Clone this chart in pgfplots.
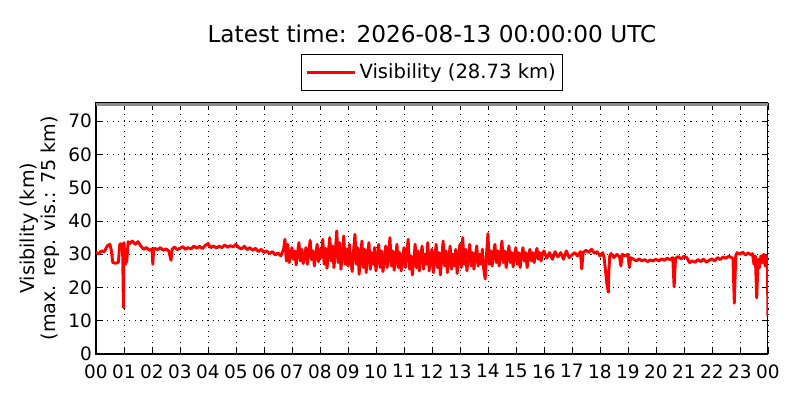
\documentclass[border=0pt]{standalone}
\usepackage{fontspec}
\setmainfont{DejaVu Sans}
\usepackage{pgfplots}
\pgfplotsset{compat=1.18}
\begin{document}
\begin{tikzpicture}
\path[use as bounding box] (0,0) rectangle (576pt,288pt);
\begin{axis}[
  at={(69.1pt,33.1pt)}, anchor=south west,
  scale only axis, width=483.8pt, height=181pt,
  xmin=0, xmax=24, ymin=0, ymax=75.6,
  xtick={0,1,...,24},
  xticklabels={00,01,02,03,04,05,06,07,08,09,10,11,12,13,14,15,16,17,18,19,20,21,22,23,00},
  ytick={0,10,...,70},
  /pgf/number format/assume math mode=true,
  ticklabel style={font=\fontsize{13.3}{15}\selectfont},
  xticklabel style={yshift=-4pt},
  yticklabel style={xshift=0.5pt},
  grid=major,
  major grid style={black, line width=0.5pt, dash pattern=on 0.8pt off 3.2pt},
  tick align=inside, tick pos=both,
  major tick length=4pt,
  tick style={black, line width=0.6pt},
  axis line style={black, line width=0.8pt},
  title={Latest time: 2026-08-13 00:00:00 UTC},
  title style={at={(axis description cs:0.5,1)}, anchor=base, yshift=37pt, font=\fontsize{16.7}{20}\selectfont},
  ylabel={Visibility (km)\\(max. rep. vis.: 75 km)},
  ylabel style={at={(axis description cs:-0.0835,0.5)}, anchor=center, align=center, font=\fontsize{13.8}{15.6}\selectfont},
  legend style={at={(axis description cs:0.5,1)}, anchor=south, yshift=8.6pt,
    draw=black, fill=white, line width=0.8pt, inner xsep=2.5pt, inner ysep=4.8pt,
    font=\fontsize{14.1}{17}\selectfont,
    nodes={inner sep=2pt}},
  legend image code/.code={\draw[#1, line width=1.6pt] (0pt,0pt) -- (30pt,0pt); \path (0pt,0pt) -- (35pt,0pt);},
]
\addplot[color={rgb,255:red,140;green,140;blue,140}, line width=2.2pt, forget plot] coordinates {(0,75) (24,75)};
\addplot[red, line width=2.1pt, line join=round] coordinates {
(0.0,30.5) (0.1,30.2) (0.2,31.0) (0.3,30.8) (0.4,32.5) (0.5,33.0) (0.55,31) (0.6,27.5) (0.7,27.3) (0.8,27.6)
(0.85,33.0) (0.9,33.2) (0.95,32.5) (0.98,14.0) (1.0,33.5) (1.05,27) (1.1,28) (1.15,33.8) (1.2,33.2) (1.3,34.0)
(1.4,33.0) (1.5,33.8) (1.6,32.5) (1.7,31.5) (1.8,32.0) (1.9,31.2) (2.0,31.6) (2.03,27.0) (2.06,31.5) (2.1,31.8)
(2.2,31.4) (2.3,32.0) (2.4,31.2) (2.5,31.6) (2.6,31.0) (2.68,28.2) (2.72,31.5) (2.8,32.2) (2.9,31.4) (3.0,31.8)
(3.1,32.3) (3.2,31.5) (3.3,32.0) (3.4,31.6) (3.5,32.5) (3.6,31.8) (3.7,32.4) (3.8,31.7) (3.9,32.6) (4.0,33.2)
(4.1,32.0) (4.2,32.5) (4.3,31.9) (4.4,32.4) (4.5,32.0) (4.6,32.8) (4.7,32.1) (4.8,32.6) (4.9,32.2) (5.0,33.0)
(5.1,32.0) (5.2,31.6) (5.3,32.4) (5.4,31.4) (5.5,32.0) (5.6,31.2) (5.7,31.8) (5.8,30.8) (5.9,31.5) (6.0,30.6)
(6.1,31.0) (6.2,30.2) (6.3,30.8) (6.4,29.8) (6.5,30.4) (6.6,29.5) (6.7,31.5) (6.75,34.5) (6.8,28.0) (6.85,33.0)
(6.9,27.5) (7.0,32.0)
(7.05,28.5) (7.10,31.0) (7.15,26.8) (7.20,30.5) (7.25,33.5) (7.30,28.0) (7.35,31.5) (7.40,27.2) (7.45,29.5) (7.50,32.0)
(7.55,27.0) (7.60,30.8) (7.65,34.2) (7.70,28.4) (7.75,31.0) (7.80,26.5) (7.85,30.0) (7.90,33.0) (7.95,27.8) (8.00,31.5)
(8.05,29.0) (8.10,34.5) (8.15,27.0) (8.20,31.8) (8.25,25.8) (8.30,30.5) (8.35,35.0) (8.40,28.0) (8.45,32.5) (8.50,26.0)
(8.55,31.0) (8.60,37.0) (8.65,27.5) (8.70,33.5) (8.75,25.5) (8.80,30.0) (8.85,35.5) (8.90,27.0) (8.95,31.5) (9.00,26.5)
(9.05,33.0) (9.10,28.5) (9.15,24.8) (9.20,31.0) (9.25,36.0) (9.30,27.0) (9.35,32.0) (9.40,24.0) (9.45,29.5) (9.50,34.0)
(9.55,26.0) (9.60,31.5) (9.65,24.5) (9.70,30.0) (9.75,33.5) (9.80,25.5) (9.85,30.5) (9.90,27.0) (9.95,32.0) (10.00,25.0)
(10.05,29.0) (10.10,33.0) (10.15,26.0) (10.20,31.0) (10.25,24.8) (10.30,28.5) (10.35,32.5) (10.40,26.0) (10.45,30.0) (10.50,35.0)
(10.55,26.5) (10.60,31.0) (10.65,25.2) (10.70,29.0) (10.75,33.0) (10.80,26.0) (10.85,30.5) (10.90,25.0) (10.95,28.5) (11.00,32.0)
(11.05,26.0) (11.10,30.5) (11.15,34.5) (11.20,25.5) (11.25,29.5) (11.30,23.8) (11.35,28.0) (11.40,33.0) (11.45,26.0) (11.50,31.0)
(11.55,25.0) (11.60,29.5) (11.65,32.5) (11.70,25.5) (11.75,30.0) (11.80,27.0) (11.85,33.5) (11.90,25.0) (11.95,29.0) (12.00,31.5)
(12.05,24.5) (12.10,28.5) (12.15,33.0) (12.20,26.0) (12.25,30.5) (12.30,23.8) (12.35,29.0) (12.40,34.0) (12.45,26.5) (12.50,31.0)
(12.55,24.5) (12.60,28.5) (12.65,32.5) (12.70,25.5) (12.75,30.0) (12.80,26.5) (12.85,31.5) (12.90,24.2) (12.95,29.0) (13.00,33.0)
(13.05,26.0) (13.10,35.0) (13.15,27.0) (13.20,31.5) (13.25,25.0) (13.30,29.5) (13.35,33.0) (13.40,26.5) (13.45,30.5) (13.50,25.5)
(13.55,29.5) (13.60,32.5) (13.65,26.5) (13.70,30.0) (13.75,27.0) (13.80,31.5) (13.85,25.5) (13.90,22.6) (13.95,30.0) (14.00,36.2)
(14.05,27.0) (14.10,31.0) (14.15,26.5) (14.20,30.5) (14.25,33.0) (14.30,27.5) (14.35,31.0) (14.40,26.5) (14.45,30.0) (14.50,34.0)
(14.55,27.5) (14.60,31.0) (14.65,26.0) (14.70,29.5) (14.75,32.5) (14.80,27.5) (14.85,30.5) (14.90,26.2) (14.95,30.0) (15.00,32.0)
(15.05,27.0) (15.10,30.5) (15.15,26.0) (15.20,29.5) (15.25,32.0) (15.30,28.0) (15.35,30.5) (15.40,26.0) (15.45,29.5) (15.50,31.5)
(15.55,28.0) (15.60,30.5) (15.65,27.5) (15.70,30.0) (15.75,31.8) (15.80,28.5) (15.85,30.5) (15.90,28.0) (15.95,30.2) (16.00,31.0)
(16.1,28.8) (16.2,30.5) (16.3,28.5) (16.4,30.8) (16.5,29.2) (16.6,30.5) (16.7,28.5) (16.8,31.0) (16.9,29.0) (17.0,29.8)
(17.1,30.5) (17.2,29.5) (17.3,30.8) (17.35,25.6) (17.4,30.5) (17.5,31.2) (17.6,30.5) (17.7,31.5) (17.8,30.3) (17.9,30.8)
(18.0,29.5) (18.1,30.5) (18.15,29.0) (18.2,25.0) (18.25,21.0) (18.3,18.6) (18.32,25) (18.35,29.5) (18.4,30.2) (18.5,29.0)
(18.6,30.0) (18.7,29.3) (18.75,26.5) (18.8,30.0) (18.9,29.5) (19.0,30.0) (19.05,26.0) (19.1,29.0) (19.2,28.5) (19.3,28.0)
(19.4,28.6) (19.5,28.0) (19.6,28.4) (19.7,27.8) (19.8,28.3) (19.9,28.0) (20.0,28.5) (20.1,28.0) (20.2,28.6) (20.3,28.2)
(20.4,28.8) (20.5,28.4) (20.6,29.0) (20.65,20.2) (20.7,28.8) (20.8,29.3) (20.9,28.6) (21.0,29.4) (21.1,29.0) (21.2,27.5)
(21.3,28.0) (21.4,27.6) (21.5,28.4) (21.6,27.8) (21.7,28.5) (21.8,27.6) (21.9,28.2) (22.0,28.6) (22.1,28.0) (22.2,29.0)
(22.3,28.4) (22.4,29.2) (22.5,28.8) (22.6,29.4) (22.7,29.0) (22.75,28.8) (22.8,15.3) (22.85,29.5) (22.9,30.5) (23.0,30.0)
(23.1,30.6) (23.2,29.8) (23.3,30.4) (23.4,29.8) (23.45,30.2) (23.5,27.0) (23.55,29.5) (23.6,16.9) (23.65,28.5) (23.7,26.0)
(23.75,29.5) (23.8,27.5) (23.85,30.0) (23.9,26.5) (23.95,29.5) (23.98,28.7) (24.0,11.3)
};
\addlegendentry{Visibility (28.73 km)}
\end{axis}
\end{tikzpicture}
\end{document}
